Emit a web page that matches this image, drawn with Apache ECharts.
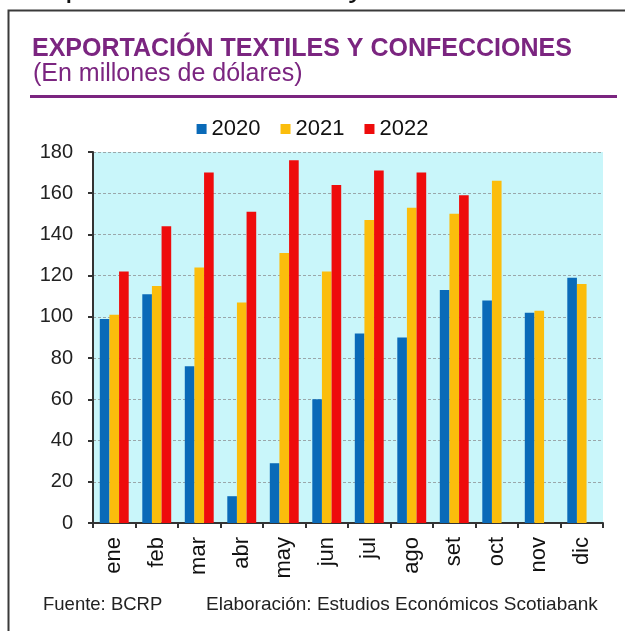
<!DOCTYPE html>
<html>
<head>
<meta charset="utf-8">
<script src="https://cdn.jsdelivr.net/npm/echarts@6/dist/echarts.min.js"></script>
<style>
  html, body { margin: 0; padding: 0; background: #ffffff; }
  #chart { width: 625px; height: 631px; }
</style>
</head>
<body>
<div id="chart"></div>
<script>
// Monthly textile & apparel exports, millions of US dollars
const months = ['ene', 'feb', 'mar', 'abr', 'may', 'jun', 'jul', 'ago', 'set', 'oct', 'nov', 'dic'];
const years = ['2020', '2021', '2022'];
const exports2020 = [99, 111, 76, 13, 29, 60, 92, 90, 113, 108, 102, 119];
const exports2021 = [101, 115, 124, 107, 131, 122, 147, 153, 150, 166, 103, 116];
const exports2022 = [122, 144, 170, 151, 176, 164, 171, 170, 159, null, null, null];
const yTicks = { min: 0, max: 180, step: 20 };

const FONT = 'Liberation Sans, Arial, sans-serif';
const PURPLE = '#7b2580';
const colors = ['#0a6ab8', '#fbbd0c', '#ee0c0c'];

const chart = echarts.init(document.getElementById('chart'));

const seriesData = [exports2020, exports2021, exports2022];

chart.setOption({
  animation: false,
  backgroundColor: '#ffffff',
  textStyle: { fontFamily: FONT },
  graphic: [
    // page heading above the framed chart (only its lower edge is in view)
    {
      type: 'text', left: 28, top: -29, silent: true,
      style: { text: 'Exportaciones textiles y confecciones', font: '32px ' + FONT, fill: '#111111' }
    },
    // frame: top and left edges
    {
      type: 'polyline', silent: true,
      shape: { points: [[8.5, 640], [8.5, 10.5], [625, 10.5]] },
      style: { stroke: '#3a3a3a', lineWidth: 2, fill: null }
    },
    {
      type: 'text', left: 32, top: 37, silent: true,
      style: { text: 'EXPORTACIÓN TEXTILES Y CONFECCIONES', font: 'bold 25px ' + FONT, fill: PURPLE }
    },
    {
      type: 'text', left: 33, top: 62, silent: true,
      style: { text: '(En millones de dólares)', font: '25px ' + FONT, fill: PURPLE }
    },
    {
      type: 'line', silent: true,
      shape: { x1: 30, y1: 96.5, x2: 617, y2: 96.5 },
      style: { stroke: PURPLE, lineWidth: 3 }
    },
    {
      type: 'text', left: 43, top: 595, silent: true,
      style: { text: 'Fuente: BCRP', font: '18.5px ' + FONT, fill: '#222222' }
    },
    {
      type: 'text', left: 206, top: 595, silent: true,
      style: { text: 'Elaboración: Estudios Económicos Scotiabank', font: '19px ' + FONT, fill: '#222222' }
    }
  ],
  legend: {
    data: years,
    top: 113,
    left: 'center',
    itemWidth: 10,
    itemHeight: 10,
    itemGap: 20,
    icon: 'rect',
    textStyle: { fontSize: 22, color: '#111111', fontFamily: FONT }
  },
  grid: {
    left: 93, right: 22, top: 152, bottom: 108,
    show: true, backgroundColor: '#c9f6fa', borderWidth: 0
  },
  xAxis: {
    type: 'category',
    data: months,
    axisLine: { lineStyle: { color: '#333333', width: 2 } },
    axisTick: { show: true, length: 5, lineStyle: { color: '#333333', width: 2 } },
    axisLabel: { rotate: 90, fontSize: 22, color: '#111111', margin: 14, fontFamily: FONT }
  },
  yAxis: {
    type: 'value',
    min: yTicks.min, max: yTicks.max, interval: yTicks.step,
    axisLine: { show: true, lineStyle: { color: '#333333', width: 2 } },
    axisTick: { show: true, length: 5, lineStyle: { color: '#333333', width: 2 } },
    axisLabel: { fontSize: 20, color: '#222222', margin: 20, fontFamily: FONT },
    splitLine: { show: true, lineStyle: { color: '#9aa7aa', type: [3, 2], width: 1 } }
  },
  series: years.map((y, i) => ({
    name: y,
    type: 'bar',
    data: seriesData[i],
    barGap: '0%',
    barCategoryGap: '32%',
    itemStyle: { color: colors[i] }
  }))
});
</script>
</body>
</html>
